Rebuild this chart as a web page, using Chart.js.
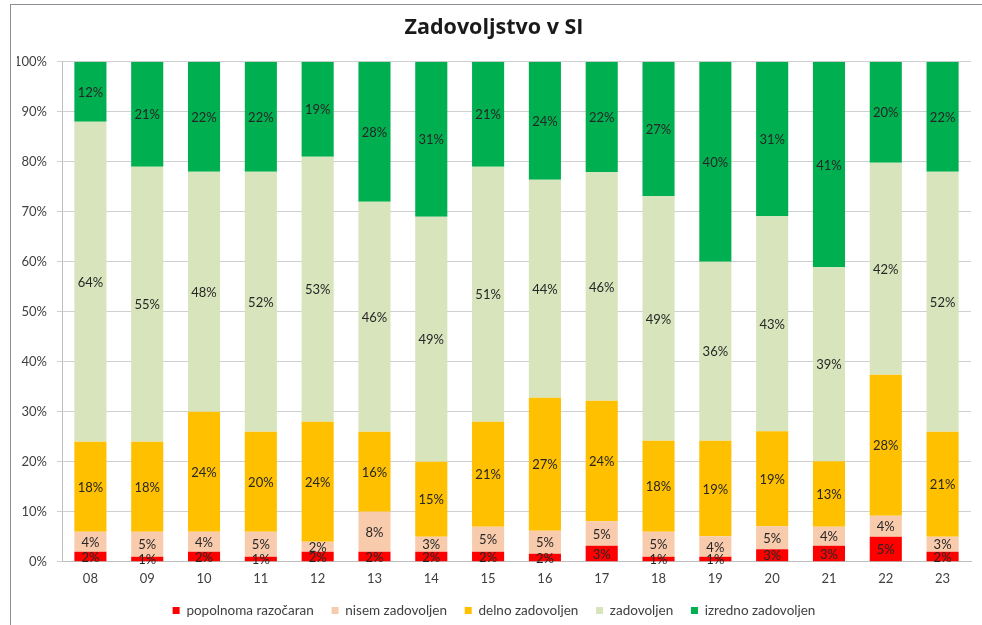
<!DOCTYPE html>
<html>
<head>
<meta charset="utf-8">
<script src="https://cdn.jsdelivr.net/npm/chart.js@4/dist/chart.umd.min.js"></script>
<style>
  html, body { margin: 0; padding: 0; background: #fff; }
  #wrap { width: 982px; height: 625px; }
</style>
</head>
<body>
<div id="wrap"><canvas id="satChart" width="982" height="625"></canvas></div>
<script>
const years = ['08', '09', '10', '11', '12', '13', '14', '15', '16', '17', '18', '19', '20', '21', '22', '23'];

// shares in %
const popolnomaRazocaran = [2, 1, 2, 1, 2, 2, 2, 2, 1.6, 3.2, 1, 1, 2.5, 3.2, 5.0, 2];
const nisemZadovoljen    = [4, 5, 4, 5, 2, 8, 3, 5, 4.6, 4.9, 5, 4.1, 4.6, 3.8, 4.2, 3];
const delnoZadovoljen    = [18, 18, 24, 20, 24, 16, 15, 21, 26.6, 24.1, 18.2, 19.1, 19.0, 13.1, 28.2, 21];
const zadovoljen         = [64, 55, 48, 52, 53, 46, 49, 51, 43.6, 45.7, 48.9, 35.8, 43.0, 38.8, 42.4, 52];
const izrednoZadovoljen  = [12, 21, 22, 22, 19, 28, 31, 21, 23.6, 22.1, 26.9, 40, 30.9, 41.1, 20.2, 22];

const yTicks = [0, 10, 20, 30, 40, 50, 60, 70, 80, 90, 100];

const FONT = 'Lato, "Open Sans", sans-serif';

// outer chart frame like the excel chart border
const framePlugin = {
  id: 'frame',
  beforeDraw(chart) {
    const ctx = chart.ctx;
    ctx.save();
    ctx.fillStyle = '#fff';
    ctx.fillRect(0, 0, chart.width, chart.height);
    ctx.strokeStyle = '#8a8f96';
    ctx.lineWidth = 1;
    ctx.strokeRect(10.5, 4.5, chart.width + 20, chart.height + 20);
    ctx.restore();
  }
};

// value labels centred in each segment
const segLabels = {
  id: 'segLabels',
  afterDatasetsDraw(chart) {
    const ctx = chart.ctx;
    ctx.save();
    ctx.font = '13px ' + FONT;
    ctx.fillStyle = '#262626';
    ctx.textAlign = 'center';
    ctx.textBaseline = 'middle';
    chart.data.datasets.forEach((ds, i) => {
      const meta = chart.getDatasetMeta(i);
      meta.data.forEach((bar, j) => {
        const v = ds.data[j];
        ctx.fillText(Math.round(v) + '%', bar.x, (bar.y + bar.base) / 2 + 1);
      });
    });
    ctx.restore();
  }
};

new Chart(document.getElementById('satChart'), {
  type: 'bar',
  data: {
    labels: years,
    datasets: [
      { label: 'popolnoma razočaran', data: popolnomaRazocaran, backgroundColor: '#ff0000' },
      { label: 'nisem zadovoljen', data: nisemZadovoljen, backgroundColor: '#f8cbad' },
      { label: 'delno zadovoljen', data: delnoZadovoljen, backgroundColor: '#ffc000' },
      { label: 'zadovoljen', data: zadovoljen, backgroundColor: '#d8e4bc' },
      { label: 'izredno zadovoljen', data: izrednoZadovoljen, backgroundColor: '#00b050' }
    ]
  },
  options: {
    responsive: false,
    devicePixelRatio: 1,
    animation: false,
    layout: { padding: { left: 17, right: 11, top: 0, bottom: -2.25 } },
    datasets: {
      bar: { categoryPercentage: 1, barPercentage: 0.565, borderWidth: 0 }
    },
    scales: {
      x: {
        stacked: true,
        grid: { display: false, tickLength: 0 },
        border: { display: true, color: '#bfbfbf' },
        // labels need only padding above them, not below
        afterFit(scale) { scale.height = 24.3; },
        ticks: { color: '#404040', font: { family: FONT, size: 13, lineHeight: 1 }, padding: 10.8 }
      },
      y: {
        stacked: true,
        min: 0,
        max: 100,
        afterBuildTicks(scale) { scale.ticks = yTicks.map(v => ({ value: v })); },
        afterFit(scale) { scale.width = 45; },
        grid: { color: '#d0d0d0', tickLength: 5 },
        border: { display: true, color: '#bfbfbf' },
        ticks: {
          color: '#404040',
          font: { family: FONT, size: 13 },
          padding: 10,
          callback: v => v + '%'
        }
      }
    },
    plugins: {
      title: {
        display: true,
        text: 'Zadovoljstvo v SI',
        color: '#1a1a1a',
        font: { family: '"Open Sans", Lato, sans-serif', size: 21.5, weight: 'bold' },
        padding: { top: 15, bottom: 21 }
      },
      legend: {
        position: 'bottom',
        labels: {
          color: '#404040',
          font: { family: FONT, size: 13.5 },
          boxWidth: 7,
          boxHeight: 7,
          padding: 17.75
        }
      },
      tooltip: { enabled: false }
    }
  },
  plugins: [framePlugin, segLabels]
});
</script>
</body>
</html>
